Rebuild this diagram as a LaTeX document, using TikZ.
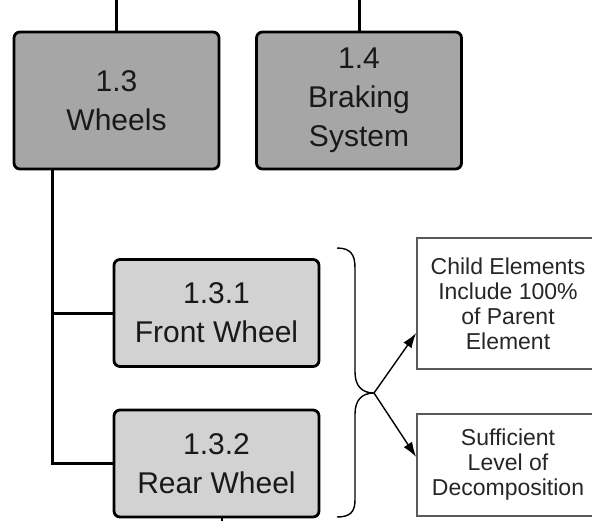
\documentclass[tikz,border=0pt]{standalone}
\usepackage{fontspec}
\setmainfont{Liberation Sans}
\usetikzlibrary{arrows.meta,calc}
\begin{document}
\begin{tikzpicture}[x=1pt,y=-1pt,
 wbs/.style={draw=black, line width=2.8pt, rounded corners=6pt, inner sep=0pt, align=center, font=\fontsize{30}{39}\selectfont, text=black!90, minimum width=205pt},
 big/.style={wbs, fill=gray!70, minimum height=137pt},
 sub/.style={wbs, fill=gray!35, minimum height=107pt},
 note/.style={draw=black!65, line width=1.6pt, inner sep=0pt, align=center, font=\fontsize{23}{25}\selectfont, text=black!85, minimum width=182pt},
 conn/.style={line width=3pt},
 bracestyle/.style={line width=1.4pt},
 arr/.style={line width=1.4pt, -{Latex[length=15pt,width=10pt]}}]
\useasboundingbox (0,0) rectangle (592,528);
\node[big] (wheels) at (116.5,100.5) {1.3\\Wheels};
\node[big] (brake) at (359,100.5) {1.4\\Braking\\System};
\node[sub] (front) at (216.5,313) {1.3.1\\Front Wheel};
\node[sub] (rear) at (216.5,463.5) {1.3.2\\Rear Wheel};
\node[note, minimum height=131pt] (child) at (508,303.5) {Child Elements\\Include 100\%\\of Parent\\Element};
\node[note, minimum height=102pt] (suff) at (508,465) {Sufficient\\Level of\\Decomposition};
\coordinate (top1) at (116.5,0);
\coordinate (top2) at (359,0);
\coordinate (trunk) at (52,169);
\coordinate (stub) at (222,521);
\coordinate (tip) at (374,393);
\draw[conn] (top1) -- (wheels.north);
\draw[conn] (top2) -- (brake.north);
\draw[conn] (trunk) |- (rear.west);
\draw[conn] (trunk |- front.west) -- (front.west);
\draw[line width=2.4pt] (rear.south -| stub) -- (stub);
\draw[bracestyle] (337,248) .. controls (351,248) and (355,255) .. (355,268) -- (355,372) .. controls (355,386) and (362,393) .. (tip) .. controls (362,393) and (355,400) .. (355,414) -- (355,500) .. controls (355,512) and (350,517) .. (337,517);
\draw[arr] (tip) -- (child.west |- 0,333);
\draw[arr] (tip) -- (suff.west |- 0,457);
\end{tikzpicture}
\end{document}
